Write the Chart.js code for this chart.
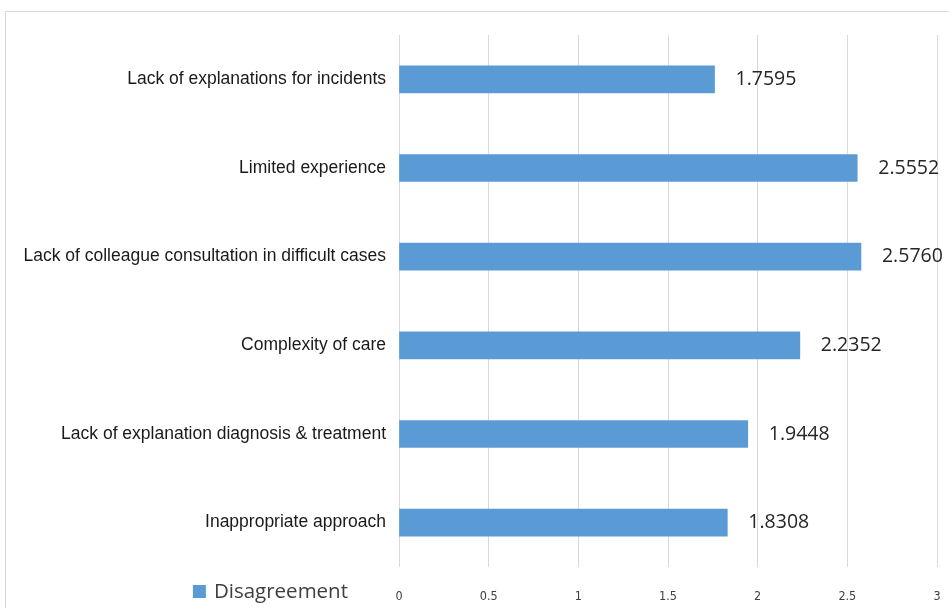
<!DOCTYPE html>
<html>
<head>
<meta charset="utf-8">
<script src="https://cdn.jsdelivr.net/npm/chart.js@4/dist/chart.umd.min.js"></script>
<style>
  body { margin: 0; background: #fff; }
  #frame { position: absolute; left: 5px; top: 11px; width: 960px; height: 620px; border: 1px solid #d9d9d9; }
  #wrap { position: absolute; left: 0; top: 0; width: 949px; height: 608px; }
</style>
</head>
<body>
<div id="frame"></div>
<div id="wrap"><canvas id="chart" width="949" height="608"></canvas></div>
<script>
const categories = [
    "Lack of explanations for incidents",
    "Limited experience",
    "Lack of colleague consultation in difficult cases",
    "Complexity of care",
    "Lack of explanation diagnosis & treatment",
    "Inappropriate approach"
];
const disagreement = [1.7595, 2.5552, 2.5760, 2.2352, 1.9448, 1.8308];
const seriesName = "Disagreement";
const barColor = "#5b9bd5";

// value labels to the right of each bar
const valueLabels = {
    id: "valueLabels",
    afterDatasetsDraw(chart) {
        let ctx = chart.ctx;
        let meta = chart.getDatasetMeta(0);
        ctx.save();
        ctx.font = "19.5px 'Open Sans'";
        ctx.fillStyle = "#262626";
        ctx.textBaseline = "middle";
        meta.data.forEach((bar, i) => {
            ctx.fillText(disagreement[i].toFixed(4), bar.x + 21, bar.y);
        });
        ctx.restore();
    }
};

// legend sits at the bottom left, on the same row as the x tick labels
const sideLegend = {
    id: "sideLegend",
    afterDraw(chart) {
        let ctx = chart.ctx;
        let area = chart.chartArea;
        let y = area.bottom + 25;
        let textRight = area.left - 51;
        ctx.save();
        ctx.font = "20.5px 'Open Sans'";
        ctx.fillStyle = "#404040";
        ctx.textBaseline = "middle";
        ctx.textAlign = "right";
        ctx.fillText(seriesName, textRight, y);
        let w = ctx.measureText(seriesName).width;
        ctx.fillStyle = barColor;
        ctx.fillRect(textRight - w - 21, y - 7, 13, 13);
        ctx.restore();
    }
};

new Chart(document.getElementById("chart").getContext("2d"), {
    type: "bar",
    data: {
        labels: categories,
        datasets: [{
            label: seriesName,
            data: disagreement,
            backgroundColor: barColor,
            barThickness: 27
        }]
    },
    options: {
        indexAxis: "y",
        responsive: false,
        animation: false,
        layout: { padding: { left: 0, top: 35, right: 12, bottom: 0 } },
        plugins: {
            legend: { display: false },
            tooltip: { enabled: false }
        },
        scales: {
            x: {
                min: 0,
                max: 3,
                afterFit(scale) {
                    scale.height = 41;
                    scale.paddingLeft = 0;
                    scale.paddingRight = 0;
                },
                border: { display: false },
                grid: { color: "#d9d9d9", drawTicks: false },
                ticks: {
                    stepSize: 0.5,
                    padding: 22,
                    color: "#404040",
                    font: { family: "'Liberation Sans Narrow', 'DejaVu Sans Condensed', Roboto", size: 12.5 },
                    callback: v => String(v)
                }
            },
            y: {
                afterFit(scale) { scale.width = 399; },
                border: { display: false },
                grid: { display: false, drawTicks: false },
                ticks: {
                    padding: 13,
                    color: "#1a1a1a",
                    font: { family: "'Liberation Sans'", size: 17.5 }
                }
            }
        }
    },
    plugins: [valueLabels, sideLegend]
});
</script>
</body>
</html>
